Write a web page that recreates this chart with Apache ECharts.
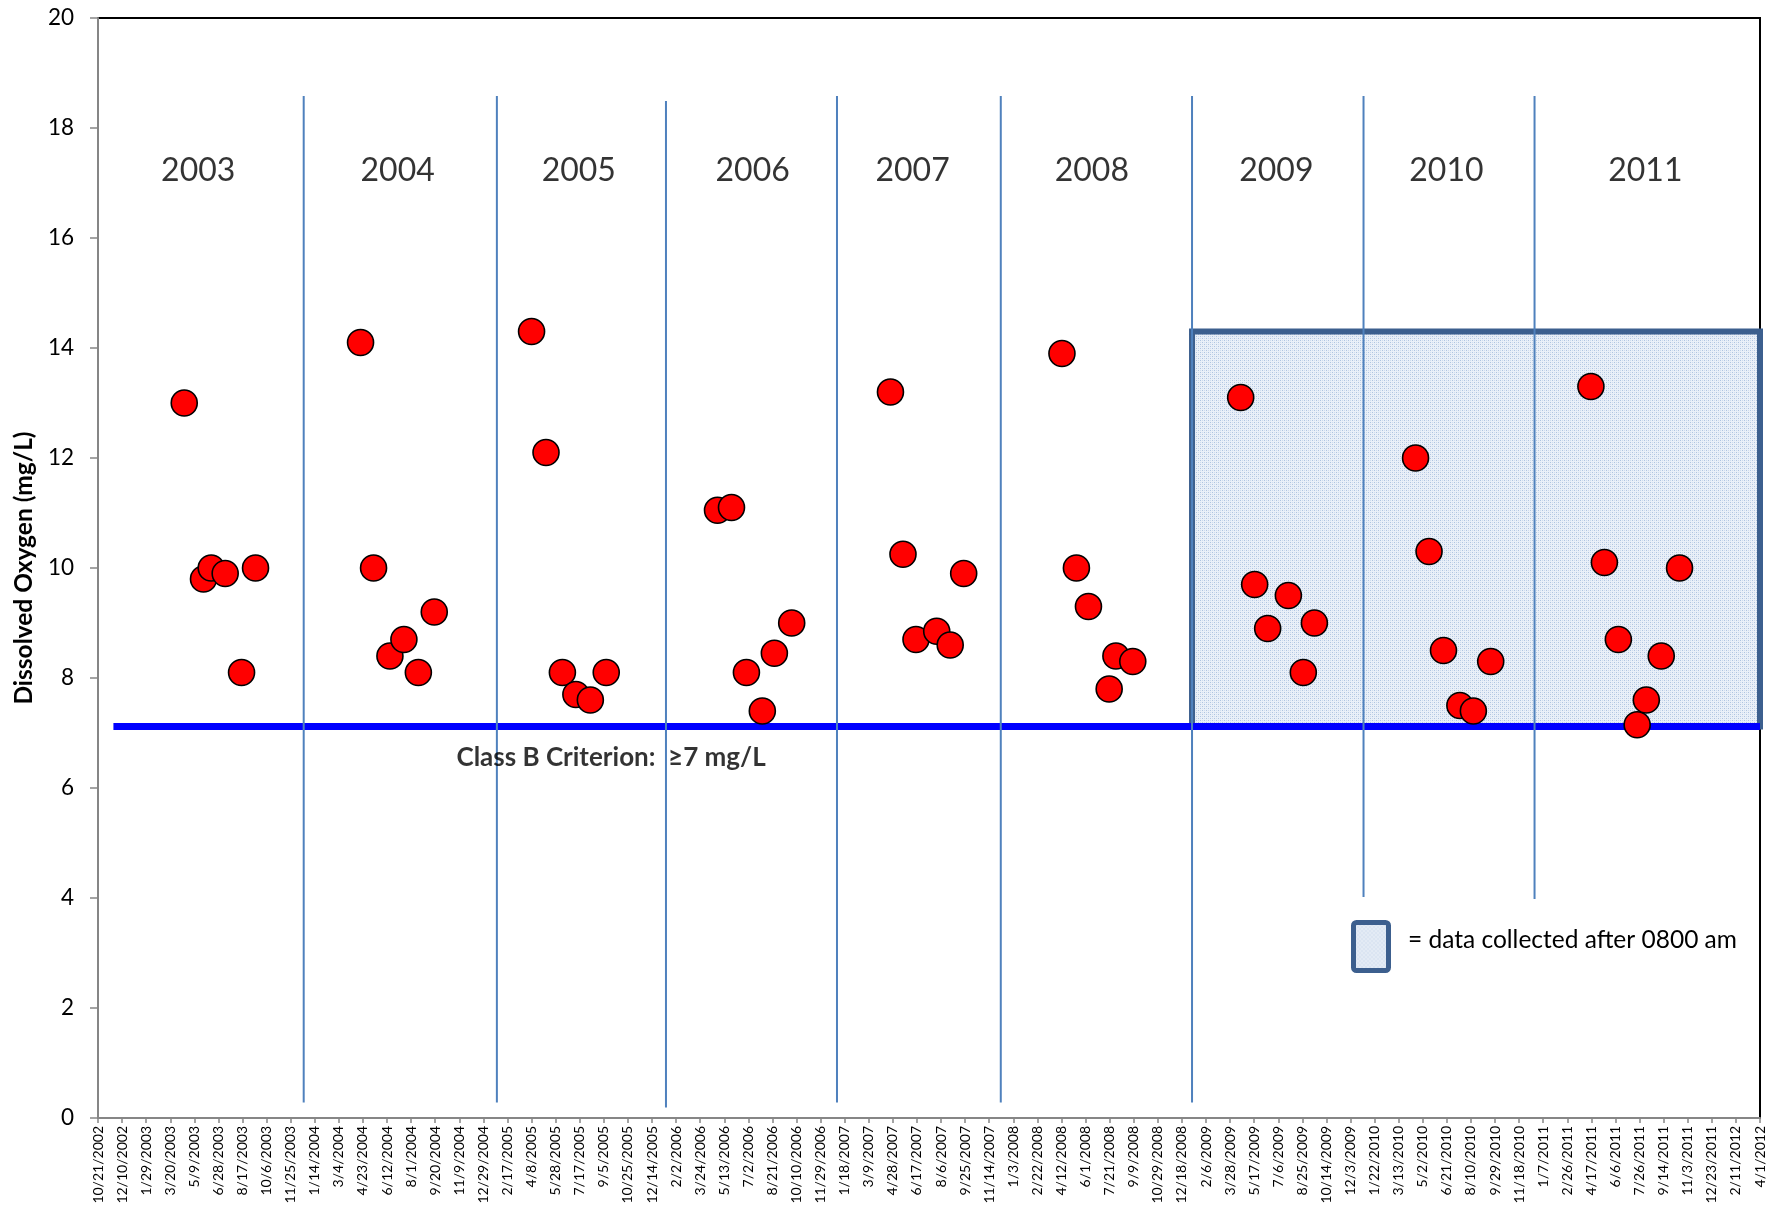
<!DOCTYPE html>
<html>
<head>
<meta charset="utf-8">
<script src="https://cdn.jsdelivr.net/npm/echarts@6/dist/echarts.min.js"></script>
<style>
html,body{margin:0;padding:0;background:#fff;}
#chart{width:1780px;height:1209px;}
</style>
</head>
<body>
<div id="chart"></div>
<script>
// ---- Data (x values are Excel date serials) ----
const sampleDates = [37729,37769,37785,37814,37848,37877, 38095,38122,38156,38185,38215,38248,
  38450,38480,38514,38542,38572,38605, 38836,38865,38896,38929,38954,38990,
  39195,39221,39248,39291,39319,39347, 39551,39581,39606,39649,39663,39698,
  39922,39951,39978,40021,40052,40075, 40285,40313,40343,40377,40405,40441,
  40649,40677,40706,40745,40764,40795,40833];
const doValues = [13.0,9.8,10.0,9.9,8.1,10.0, 14.1,10.0,8.4,8.7,8.1,9.2,
  14.3,12.1,8.1,7.7,7.6,8.1, 11.05,11.1,8.1,7.4,8.45,9.0,
  13.2,10.25,8.7,8.85,8.6,9.9, 13.9,10.0,9.3,7.8,8.4,8.3,
  13.1,9.7,8.9,9.5,8.1,9.0, 12.0,10.3,8.5,7.5,7.4,8.3,
  13.3,10.1,8.7,7.15,7.6,8.4,10.0];

const yearNames = ['2003','2004','2005','2006','2007','2008','2009','2010','2011'];
const yearLabelX = [37758,38172,38548,38909,39241,39613,39996,40349,40762];
const yearLabelY = 17.22;

const separatorX = [37977,38378,38729,39084,39424,39821,40177,40532];
const separatorTop = [18.58,18.58,18.49,18.58,18.58,18.58,18.58,18.58];
const separatorBottom = [0.28,0.28,0.19,0.28,0.28,0.28,4.02,3.98];

const criterionValue = 7.12;
const criterionStart = 37582;
const criterionEnd = 41000;
const criterionText = 'Class B Criterion:  \u22657 mg/L';
const criterionLabelX = 38615;
const criterionLabelY = 6.55;

const boxStart = 39821, boxEnd = 41000, boxTop = 14.3, boxBottom = 7.12;
const legendText = '= data collected after 0800 am';

const xMin = 37550, xMax = 41000, xInterval = 50;
const yMin = 0, yMax = 20, yInterval = 2;

// ---- helpers ----
function serialToLabel(s){
  const d = new Date(Date.UTC(1899,11,30) + Math.round(s)*86400000);
  return (d.getUTCMonth()+1) + '/' + d.getUTCDate() + '/' + d.getUTCFullYear();
}
const pc = document.createElement('canvas');
pc.width = 4; pc.height = 4;
const pctx = pc.getContext('2d');
pctx.fillStyle = '#eaf0f8'; pctx.fillRect(0,0,4,4);
pctx.fillStyle = '#afc4e0'; pctx.fillRect(0,0,1,1); pctx.fillRect(2,2,1,1);
pctx.fillStyle = '#cfdcee'; pctx.fillRect(2,0,1,1); pctx.fillRect(0,2,1,1);
const boxFill = {image: pc, repeat: 'repeat'};
const boxBorder = '#3c5f8e';
const FONT = 'Lato';

const points = sampleDates.map((d,i)=>[d, doValues[i]]);

const series = [];
// criterion line
series.push({
  type:'line', z:2, silent:true, showSymbol:false, symbol:'none',
  data:[[criterionStart, criterionValue],[criterionEnd, criterionValue]],
  lineStyle:{color:'#0000ff', width:7}
});
// box of data collected after 0800
series.push({
  type:'line', z:3, silent:true, data:[],
  markArea:{silent:true,
    itemStyle:{color: boxFill, borderColor: boxBorder, borderWidth:6},
    data:[[{coord:[boxStart, boxTop]},{coord:[boxEnd, boxBottom]}]]
  }
});
// year separators
separatorX.forEach((x,i)=>{
  series.push({
    type:'line', z:4, silent:true, showSymbol:false, symbol:'none',
    data:[[x, separatorBottom[i]],[x, separatorTop[i]]],
    lineStyle:{color:'#4f81bd', width:2}
  });
});
// data points
series.push({
  type:'scatter', z:5, data: points, symbolSize:26,
  itemStyle:{color:'#ff0000', borderColor:'#000', borderWidth:1.6, opacity:1}
});
// year labels
series.push({
  type:'scatter', z:6, silent:true, symbolSize:0,
  data: yearNames.map((n,i)=>({value:[yearLabelX[i], yearLabelY], name:n})),
  label:{show:true, position:'inside', formatter:p=>p.name, color:'#000',
    fontSize:32, fontFamily:FONT}
});
// criterion label
series.push({
  type:'scatter', z:6, silent:true, symbolSize:0,
  data:[{value:[criterionLabelX, criterionLabelY], name:criterionText}],
  label:{show:true, position:'inside', formatter:p=>p.name, color:'#000',
    fontSize:26, fontWeight:'bold', fontFamily:FONT}
});

const chart = echarts.init(document.getElementById('chart'), null, {renderer:'canvas'});
chart.setOption({
  animation:false,
  backgroundColor:'#fff',
  textStyle:{fontFamily:FONT},
  grid:{left:98, right:20, top:18, bottom:91, show:true, borderColor:'#000', borderWidth:2, backgroundColor:'transparent'},
  xAxis:{type:'value', min:xMin, max:xMax, interval:xInterval,
    axisLine:{show:true, onZero:false, lineStyle:{color:'#868686', width:2}},
    axisTick:{show:true, length:5, lineStyle:{color:'#868686', width:1.5}},
    axisLabel:{rotate:90, fontSize:14, color:'#000', margin:8, fontFamily:FONT,
      formatter:v=>serialToLabel(v), showMinLabel:true, showMaxLabel:true},
    splitLine:{show:false}},
  yAxis:{type:'value', min:yMin, max:yMax, interval:yInterval,
    name:'Dissolved Oxygen (mg/L)', nameLocation:'middle', nameGap:60,
    nameTextStyle:{fontSize:24.5, fontWeight:'bold', color:'#000', fontFamily:FONT},
    axisLine:{show:true, lineStyle:{color:'#868686', width:2}},
    axisTick:{show:true, length:8, lineStyle:{color:'#868686', width:1.5}},
    axisLabel:{fontSize:22.5, color:'#000', margin:24, fontFamily:FONT},
    splitLine:{show:false}},
  graphic:[
    {type:'rect', left:1351, top:920, shape:{width:35, height:48, r:3}, z:10,
      style:{fill: boxFill, stroke: boxBorder, lineWidth:5}},
    {type:'text', left:1408, top:928, z:10,
      style:{text: legendText, fontSize:24.5, fontFamily:FONT, fill:'#000'}}
  ],
  series: series
});
</script>
</body>
</html>
